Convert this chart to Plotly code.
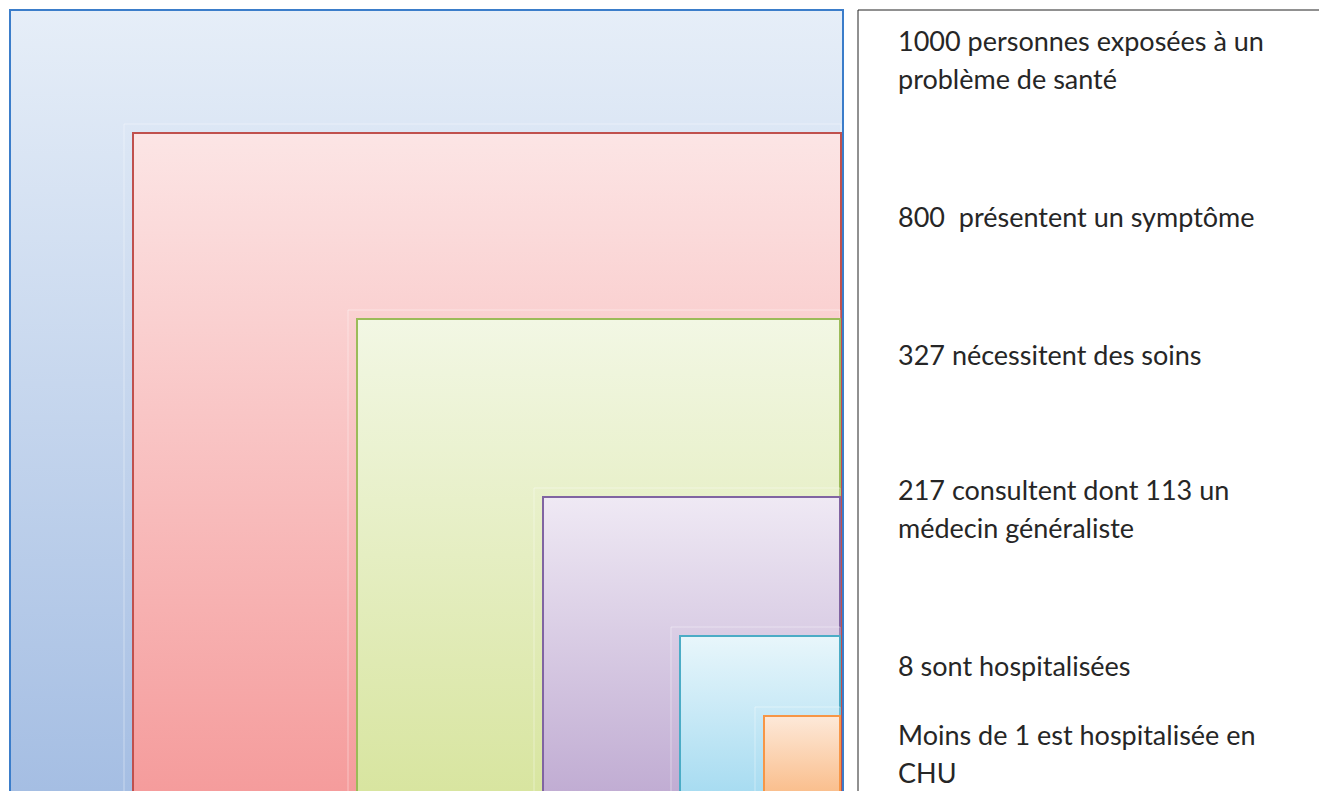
import plotly.graph_objects as go

# Labels / values
counts = [1000, 800, 327, 217, 8, 1]
labels = [
    "1000 personnes exposées à un<br>problème de santé",
    "800  présentent un symptôme",
    "327 nécessitent des soins",
    "217 consultent dont 113 un<br>médecin généraliste",
    "8 sont hospitalisées",
    "Moins de 1 est hospitalisée en<br>CHU",
]
# nested box extents (pixel-like diagram units)
box_left = [10, 133, 357, 543, 680, 764]
box_top = [10, 133, 319, 497, 636, 716]
box_right = [843, 841, 840, 840, 840, 840]
label_baseline = [50, 226, 364, 499, 675, 744]
line_gap = 38.5

edge_colors = ["#3b7dca", "#c0504d", "#9bbb59", "#8064a2", "#4bacc6", "#f79646"]
top_colors = ["#e6eef8", "#fce5e5", "#f2f7e4", "#efe9f4", "#e8f6fb", "#fde9d9"]
bot_colors = ["#a5bee3", "#f59c9c", "#d8e5a0", "#c1add3", "#a8dcf1", "#fabf8e"]

W, H = 1327, 791
OFF = 8  # browser body margin
fig = go.Figure()

for i in range(len(counts)):
    l, t, r, b = box_left[i], box_top[i], box_right[i], H + 5
    # faint glow outline
    fig.add_trace(go.Scatter(
        x=[l - 9, l - 9, r, r, l - 9], y=[b, t - 9, t - 9, b, b],
        mode="lines", line=dict(color="rgba(255,255,255,0.4)", width=1),
        hoverinfo="skip", showlegend=False))
    fig.add_trace(go.Scatter(
        x=[l, l, r, r, l], y=[b, t, t, b, b],
        mode="lines", fill="toself",
        fillgradient=dict(type="vertical",
                          colorscale=[[0, top_colors[i]], [1, bot_colors[i]]],
                          start=t, stop=H),
        line=dict(color=edge_colors[i], width=2),
        hoverinfo="skip", showlegend=False, name=str(counts[i])))

# right text box
fig.add_shape(type="rect", x0=858, x1=W + 5, y0=10, y1=H + 5,
              line=dict(color="#222222", width=1), fillcolor="white", layer="below")

for i, lab in enumerate(labels):
    for k, line in enumerate(lab.split("<br>")):
        fig.add_annotation(x=896, y=label_baseline[i] + k * line_gap - 10, text=line,
                           showarrow=False, xanchor="left", yanchor="middle",
                           align="left",
                           font=dict(family="Lato", size=27, color="#262626"))

fig.update_xaxes(range=[OFF, W], visible=False, fixedrange=True)
fig.update_yaxes(range=[H, OFF], visible=False, fixedrange=True)
fig.update_layout(width=W - OFF, height=H - OFF, margin=dict(l=0, r=0, t=0, b=0),
                  paper_bgcolor="white", plot_bgcolor="white",
                  font=dict(family="Lato"))
fig.write_html("out.html")
